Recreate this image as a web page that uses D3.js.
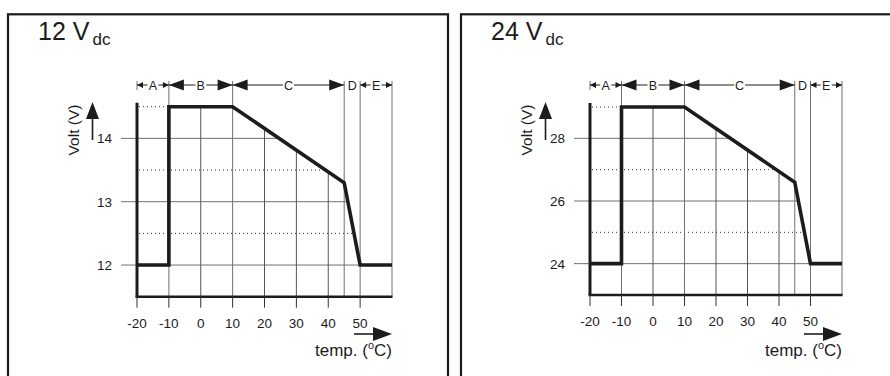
<!DOCTYPE html>
<html lang="en">
<head>
<meta charset="UTF-8">
<title>Voltage vs temperature</title>
<script src="https://d3js.org/d3.v7.min.js"></script>
<style>
  body { margin: 0; background: #fff; }
  svg { display: block; font-family: "Liberation Sans", Arial, sans-serif; }
</style>
</head>
<body>
<svg id="chart" width="890" height="376"></svg>
<script>
// temperature axis
var tempTicks = [-20, -10, 0, 10, 20, 30, 40, 50];
var tempDomain = [-20, 60];

// section brackets at the top
var sectionBounds = [-20, -10, 10, 45, 50, 60];
var sectionLabels = ["A", "B", "C", "D", "E"];
var sectionArrows = ["small", "big", "big", "none", "small"];

// characteristic curve (same temps for both panels)
var curveTemp = [-20, -10, -10, 10, 45, 50, 60];
var curve12 = [12, 12, 14.5, 14.5, 13.3, 12, 12];
var curve24 = [24, 24, 29, 29, 26.6, 24, 24];

// voltage axes
var yTicks12 = [12, 13, 14];
var yTicks24 = [24, 26, 28];
var dotted12 = [12.5, 13.5, 14.5];
var dotted24 = [25, 27, 29];
var yDomain12 = [11.5, 14.5];
var yDomain24 = [23, 29];

var panels = [
  { title: "12", curve: curve12, yTicks: yTicks12, dotted: dotted12, yDomain: yDomain12,
    frameX: 8, x0: 137, x1: 392, yBottom: 296.7, yTop: 106.7 },
  { title: "24", curve: curve24, yTicks: yTicks24, dotted: dotted24, yDomain: yDomain24,
    frameX: 461, x0: 590, x1: 842, yBottom: 295, yTop: 107 }
];

var svg = d3.select("#chart");
var defs = svg.append("defs");
var rowY = 85;
var ink = "#1c1c1c";
var gridCol = "#707070";

panels.forEach(function(p, i) {
  var g = svg.append("g");
  var x = d3.scaleLinear().domain(tempDomain).range([p.x0, p.x1]);
  var y = d3.scaleLinear().domain(p.yDomain).range([p.yBottom, p.yTop]);
  var yMin = p.yDomain[0];

  // frame
  g.append("rect")
    .attr("x", p.frameX).attr("y", 14.3)
    .attr("width", 440).attr("height", 420)
    .attr("fill", "none").attr("stroke", ink).attr("stroke-width", 2.2);

  // title
  var t = g.append("text")
    .attr("x", p.frameX + 30).attr("y", 40)
    .attr("font-size", 25).attr("fill", ink);
  t.append("tspan").text(p.title + " V");
  t.append("tspan").attr("font-size", 17).attr("dx", 3).attr("dy", 5).text("dc");

  // clip: area under the upper envelope of the curve
  var env = [[p.x0 - 17, y(yMin)], [p.x0 - 17, y(p.curve[2]) - 1.5]];
  for (var k = 2; k < curveTemp.length; k++) {
    env.push([x(curveTemp[k]), y(p.curve[k]) - 1.5]);
  }
  env.push([x(60) + 1, y(p.curve[p.curve.length - 1]) - 1.5]);
  env.push([x(60) + 1, y(yMin)]);
  defs.append("clipPath").attr("id", "clip" + i)
    .append("polygon").attr("points", env.map(function(d) { return d.join(","); }).join(" "));

  var grid = g.append("g").attr("clip-path", "url(#clip" + i + ")");

  // horizontal grid lines (extend left as ticks)
  grid.selectAll(".hg").data(p.yTicks).enter().append("line")
    .attr("x1", p.x0 - 16).attr("x2", x(60))
    .attr("y1", function(d) { return y(d); }).attr("y2", function(d) { return y(d); })
    .attr("stroke", gridCol).attr("stroke-width", 1);

  // dotted half-volt lines
  grid.selectAll(".dg").data(p.dotted).enter().append("line")
    .attr("x1", x(-20) + 2).attr("x2", x(60))
    .attr("y1", function(d) { return y(d); }).attr("y2", function(d) { return y(d); })
    .attr("stroke", "#333").attr("stroke-width", 1).attr("stroke-dasharray", "1,3");

  // vertical grid lines not on a section boundary
  var inner = tempTicks.filter(function(d) { return sectionBounds.indexOf(d) < 0; });
  grid.selectAll(".vg").data(inner).enter().append("line")
    .attr("x1", function(d) { return x(d); }).attr("x2", function(d) { return x(d); })
    .attr("y1", y(yMin)).attr("y2", p.yTop - 5)
    .attr("stroke", "#555").attr("stroke-width", 1);

  // section boundary lines
  g.selectAll(".sb").data(sectionBounds.slice(1)).enter().append("line")
    .attr("x1", function(d) { return x(d); }).attr("x2", function(d) { return x(d); })
    .attr("y1", rowY - 4).attr("y2", y(yMin))
    .attr("stroke", gridCol).attr("stroke-width", 1);
  g.append("line")
    .attr("x1", x(-20)).attr("x2", x(-20))
    .attr("y1", rowY - 4).attr("y2", rowY + 5)
    .attr("stroke", gridCol).attr("stroke-width", 1);

  // bottom axis and ticks
  g.append("line")
    .attr("x1", x(-20) - 1.5).attr("x2", x(60) + 0.5)
    .attr("y1", y(yMin)).attr("y2", y(yMin))
    .attr("stroke", ink).attr("stroke-width", 2.4);
  g.selectAll(".xt").data(tempTicks).enter().append("line")
    .attr("x1", function(d) { return x(d); }).attr("x2", function(d) { return x(d); })
    .attr("y1", y(yMin)).attr("y2", y(yMin) + 11)
    .attr("stroke", "#333").attr("stroke-width", 1);
  g.selectAll(".xl").data(tempTicks).enter().append("text")
    .attr("x", function(d) { return x(d); }).attr("y", y(yMin) + 31)
    .attr("text-anchor", "middle").attr("font-size", 13.5).attr("fill", ink)
    .text(function(d) { return d; });

  // left thick axis
  g.append("line")
    .attr("x1", x(-20)).attr("x2", x(-20))
    .attr("y1", y(yMin)).attr("y2", p.yTop - 4)
    .attr("stroke", ink).attr("stroke-width", 3);

  // y tick labels
  g.selectAll(".yl").data(p.yTicks).enter().append("text")
    .attr("x", p.x0 - 25).attr("y", function(d) { return y(d) + 5; })
    .attr("text-anchor", "end").attr("font-size", 13.5).attr("fill", ink)
    .text(function(d) { return d; });

  // y axis label with arrow
  g.append("text")
    .attr("transform", "translate(" + (p.x0 - 58) + ",130) rotate(-90)")
    .attr("text-anchor", "middle").attr("font-size", 15.5).attr("fill", ink)
    .text("Volt (V)");
  var ax = p.x0 - 44.5;
  g.append("line").attr("x1", ax).attr("x2", ax).attr("y1", 140).attr("y2", 115)
    .attr("stroke", ink).attr("stroke-width", 1.6);
  g.append("path")
    .attr("d", "M" + ax + ",102 L" + (ax + 6.5) + ",119 L" + (ax - 6.5) + ",119 Z")
    .attr("fill", ink);

  // x axis label with arrow
  g.append("line").attr("x1", p.x1 - 38).attr("x2", p.x1 - 15).attr("y1", 334).attr("y2", 334)
    .attr("stroke", ink).attr("stroke-width", 1.6);
  g.append("path")
    .attr("d", "M" + p.x1 + ",334 L" + (p.x1 - 19) + ",327 L" + (p.x1 - 19) + ",341 Z")
    .attr("fill", ink);
  var xt = g.append("text")
    .attr("x", p.x1).attr("y", 356)
    .attr("text-anchor", "end").attr("font-size", 17).attr("fill", ink);
  xt.append("tspan").text("temp. (");
  xt.append("tspan").attr("font-size", 11).attr("dy", -7).text("o");
  xt.append("tspan").attr("dy", 7).text("C)");

  // section brackets
  sectionLabels.forEach(function(lab, s) {
    var a = x(sectionBounds[s]), b = x(sectionBounds[s + 1]), m = (a + b) / 2;
    var kind = sectionArrows[s];
    if (kind !== "none") {
      g.append("line").attr("x1", a).attr("x2", b).attr("y1", rowY).attr("y2", rowY)
        .attr("stroke", ink).attr("stroke-width", 1);
      var L = kind === "big" ? 15 : 6, H = kind === "big" ? 5.5 : 3;
      g.append("path")
        .attr("d", "M" + a + "," + rowY + " L" + (a + L) + "," + (rowY - H) + " L" + (a + L) + "," + (rowY + H) + " Z")
        .attr("fill", ink);
      g.append("path")
        .attr("d", "M" + b + "," + rowY + " L" + (b - L) + "," + (rowY - H) + " L" + (b - L) + "," + (rowY + H) + " Z")
        .attr("fill", ink);
      g.append("rect").attr("x", m - 5.5).attr("y", rowY - 6).attr("width", 11).attr("height", 12)
        .attr("fill", "#fff");
    }
    g.append("text")
      .attr("x", m).attr("y", rowY + 4.5)
      .attr("text-anchor", "middle").attr("font-size", 12.5).attr("fill", ink)
      .text(lab);
  });

  // curve
  var line = d3.line()
    .x(function(d, k) { return x(curveTemp[k]); })
    .y(function(d) { return y(d); });
  g.append("path")
    .attr("d", line(p.curve))
    .attr("fill", "none").attr("stroke", ink).attr("stroke-width", 3.6)
    .attr("stroke-linejoin", "miter");
});
</script>
</body>
</html>
